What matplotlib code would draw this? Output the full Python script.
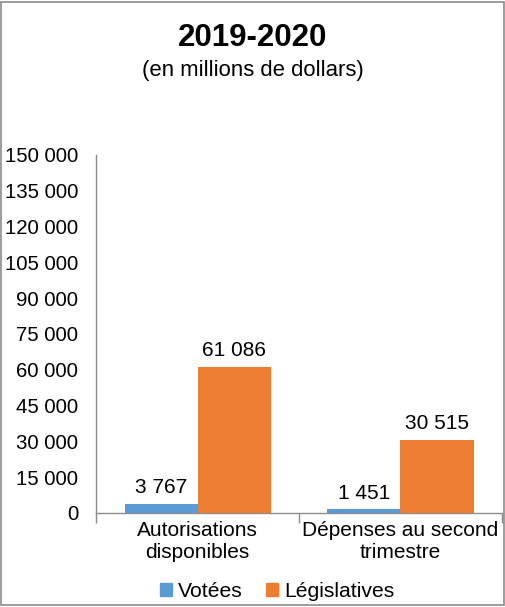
import matplotlib
matplotlib.use("Agg")
import matplotlib.pyplot as plt
import matplotlib.patches as mpatches
from matplotlib.ticker import FuncFormatter, FixedLocator
import numpy as np

plt.rcParams["font.family"] = ["Liberation Sans", "DejaVu Sans"]

# ─── données ─────────────────────────────────────────────────────────────────
categories = ["Autorisations\ndisponibles", "Dépenses au second\ntrimestre"]
votees = [3767, 1451]
legislatives = [61086, 30515]
series_names = ["Votées", "Législatives"]
yticks = list(range(0, 150001, 15000))

COR = {"Votées": "#5B9BD5", "Législatives": "#ED7D31"}


def fmt(v, pos=None):
    return f"{int(v):,}".replace(",", " ")


fig = plt.figure(figsize=(5.06, 6.07), dpi=100)
fig.patch.set_facecolor("white")
# cadre gris autour du graphique
fig.patches.append(mpatches.Rectangle((0.002, 0.003), 0.994, 0.994,
                                      transform=fig.transFigure, fill=False,
                                      edgecolor="#8C8C8C", linewidth=1.2))

ax = fig.add_axes([0.19, 0.155, 0.802, 0.59])

x = np.arange(len(categories))
w = 0.36
for i, (name, vals) in enumerate(zip(series_names, [votees, legislatives])):
    xpos = x + (i - 0.5) * w
    bars = ax.bar(xpos, vals, w, color=COR[name], label=name, zorder=3)
    for b, v in zip(bars, vals):
        ax.annotate(fmt(v), (b.get_x() + b.get_width() / 2, v),
                    xytext=(0, 5), textcoords="offset points",
                    ha="center", va="bottom", fontsize=15, color="black")

ax.set_ylim(0, 150000)
ax.set_xlim(-0.5, 1.5)
ax.yaxis.set_major_locator(FixedLocator(yticks))
ax.yaxis.set_major_formatter(FuncFormatter(fmt))
ax.set_xticks(x)
ax.set_xticklabels(categories, fontsize=15)
ax.set_xticks([-0.5, 0.5, 1.5], minor=True)
ax.tick_params(axis="x", which="major", length=0, pad=6)
ax.tick_params(axis="x", which="minor", length=7, color="#8C8C8C", width=1)
ax.tick_params(axis="y", length=0, labelsize=14.7, pad=13)

for s in ["top", "right"]:
    ax.spines[s].set_visible(False)
for s in ["left", "bottom"]:
    ax.spines[s].set_color("#8C8C8C")
    ax.spines[s].set_linewidth(1)

fig.text(0.5, 0.938, "2019-2020", ha="center", va="center",
         fontsize=22.5, fontweight="bold")
fig.text(0.5, 0.884, "(en millions de dollars)", ha="center", va="center",
         fontsize=15.9)

handles = [mpatches.Patch(color=COR[n], label=n) for n in series_names]
fig.legend(handles=handles, loc="center", bbox_to_anchor=(0.548, 0.025),
           ncol=2, frameon=False, fontsize=15.2, handlelength=0.55,
           handleheight=0.55, handletextpad=0.3, columnspacing=1.1)

fig.savefig("out.png", dpi=100, facecolor="white")
